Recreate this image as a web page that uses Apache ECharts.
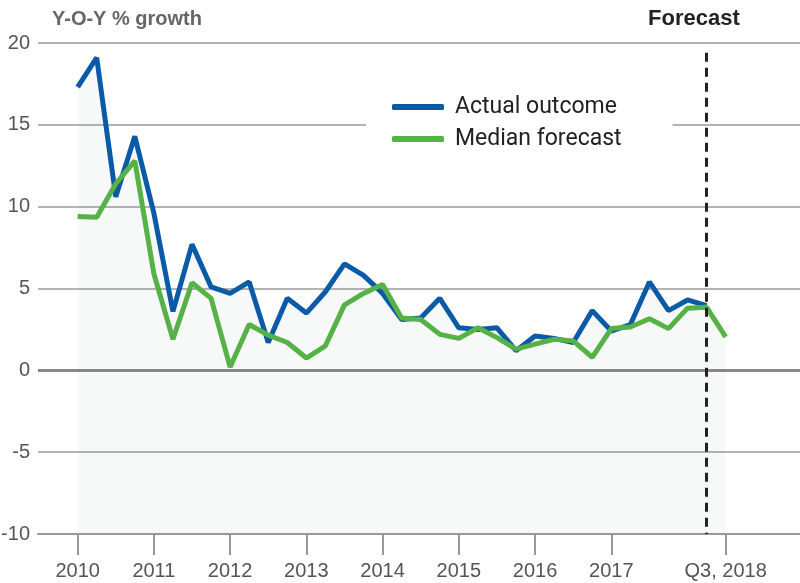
<!DOCTYPE html>
<html>
<head>
<meta charset="utf-8">
<script src="https://cdn.jsdelivr.net/npm/echarts@6/dist/echarts.min.js"></script>
<style>
  html, body { margin: 0; padding: 0; background: #fff; }
  #chart { width: 800px; height: 583px; }
</style>
</head>
<body>
<div id="chart"></div>
<script>
// quarterly y-o-y growth, 2010 Q1 .. 2018 Q3 (index 0 = 2010 Q1)
const actualOutcome = [
  17.3, 19.1, 10.6, 14.3,
  9.6, 3.6, 7.7, 5.1,
  4.7, 5.4, 1.7, 4.4,
  3.5, 4.8, 6.5, 5.8,
  4.7, 3.1, 3.2, 4.4,
  2.6, 2.5, 2.6, 1.2,
  2.1, 1.95, 1.7, 3.65,
  2.4, 2.8, 5.4, 3.65,
  4.3, 3.95
];
const medianForecast = [
  9.4, 9.35, 11.4, 12.8,
  5.9, 1.9, 5.35, 4.4,
  0.2, 2.8, 2.15, 1.7,
  0.75, 1.5, 4.0, 4.7,
  5.25, 3.2, 3.1, 2.2,
  1.95, 2.6, 2.0, 1.3,
  1.6, 1.9, 1.8, 0.8,
  2.55, 2.65, 3.15, 2.55,
  3.8, 3.85, 2.05
];
const tickQuarters = [0, 4, 8, 12, 16, 20, 24, 28, 34];
const tickLabels = ["2010", "2011", "2012", "2013", "2014", "2015", "2016", "2017", "Q3, 2018"];
const forecastStart = 33; // 2018 Q2

const sans = '"Liberation Sans", Arial, sans-serif';

// shaded band under the higher of the two lines
const shade = medianForecast.map((v, i) =>
  [i, i < actualOutcome.length ? Math.max(v, actualOutcome[i]) : v]);

const chart = echarts.init(document.getElementById("chart"));

const option = {
  animation: false,
  grid: { left: 38, right: 0, top: 43, bottom: 49, outerBoundsMode: "none" },
  graphic: [
    {
      type: "text", left: 52, top: 9,
      style: { text: "Y-O-Y % growth", fill: "#666", font: "bold 20px " + sans }
    },
    {
      type: "text", left: 648, top: 8,
      style: { text: "Forecast", fill: "#222", font: "bold 22px " + sans }
    }
  ],
  legend: {
    data: ["Actual outcome", "Median forecast"],
    orient: "vertical",
    left: 366,
    top: 78,
    padding: [14, 51, 14, 26],
    backgroundColor: "#fff",
    icon: "roundRect",
    itemWidth: 52,
    itemHeight: 6,
    itemGap: 2,
    textStyle: {
      fontFamily: "Roboto, sans-serif",
      fontSize: 23,
      color: "#222",
      lineHeight: 30,
      padding: [0, 0, 0, 6]
    }
  },
  xAxis: {
    type: "value",
    min: -2.08,
    max: 37.9,
    splitLine: { show: false },
    axisLine: { show: true, onZero: false, lineStyle: { color: "#999", width: 2 } },
    axisTick: {
      show: true,
      customValues: tickQuarters,
      length: 21,
      lineStyle: { color: "#999", width: 2 }
    },
    axisLabel: {
      customValues: tickQuarters,
      margin: 27,
      fontFamily: sans,
      fontSize: 20,
      color: "#555",
      formatter: (v) => tickLabels[tickQuarters.indexOf(v)]
    }
  },
  yAxis: {
    type: "value",
    min: -10,
    max: 20,
    interval: 5,
    axisLine: { show: false },
    axisTick: { show: false },
    splitLine: { lineStyle: { color: "#9a9a9a", width: 1.5 } },
    axisLabel: {
      margin: 8,
      fontFamily: sans,
      fontSize: 20,
      color: "#555"
    }
  },
  series: [
    {
      name: "shade",
      type: "line",
      data: shade,
      symbol: "none",
      lineStyle: { width: 0 },
      areaStyle: { origin: "start", color: "rgba(120,145,145,0.09)" },
      silent: true,
      markLine: {
        silent: true,
        symbol: "none",
        label: { show: false },
        data: [
          { yAxis: 0, lineStyle: { color: "#888", width: 3, type: "solid" } },
          [
            { coord: [forecastStart, 19.4], lineStyle: { color: "#222", width: 3, type: [9, 6] } },
            { coord: [forecastStart, -10] }
          ]
        ]
      }
    },
    {
      name: "Actual outcome",
      type: "line",
      data: actualOutcome.map((v, i) => [i, v]),
      symbol: "none",
      color: "#0a5aa8",
      lineStyle: { width: 5, color: "#0a5aa8" }
    },
    {
      name: "Median forecast",
      type: "line",
      data: medianForecast.map((v, i) => [i, v]),
      symbol: "none",
      color: "#56b146",
      lineStyle: { width: 5, color: "#56b146" }
    }
  ]
};

chart.setOption(option);
</script>
</body>
</html>
